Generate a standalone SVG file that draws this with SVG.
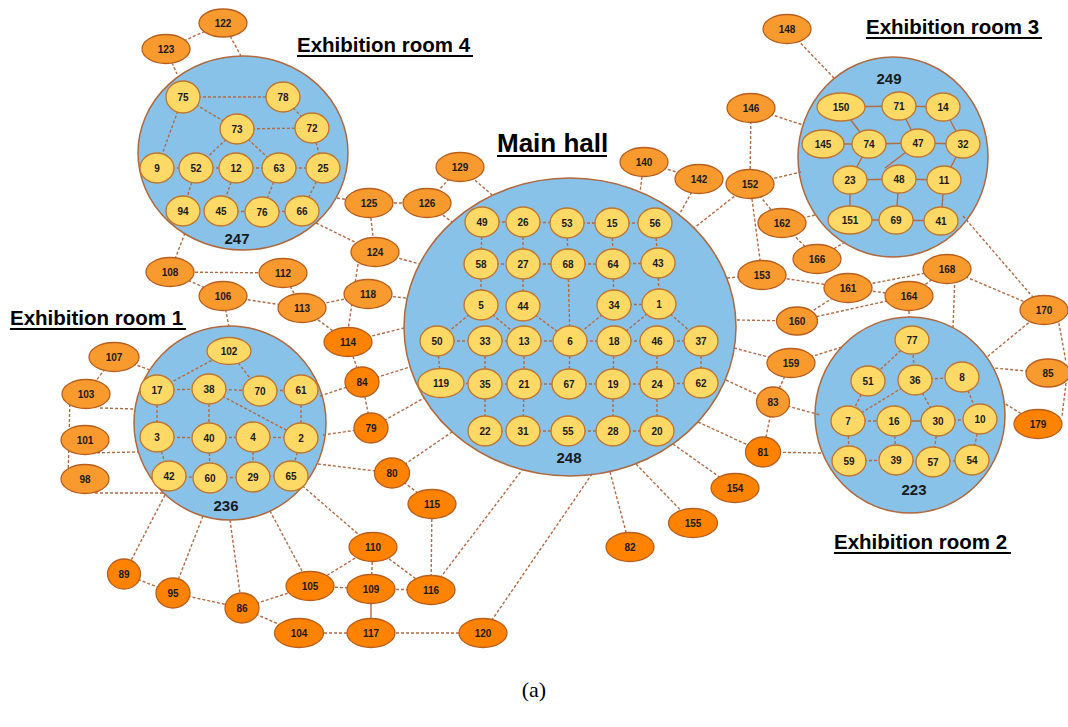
<svg xmlns="http://www.w3.org/2000/svg" width="1068" height="727" viewBox="0 0 1068 727">
<style>
.room{fill:#89C2E9;stroke:#B0683C;stroke-width:1.5}
.y ellipse{fill:#FFD966;stroke:#BF7530;stroke-width:1.3}
.o ellipse{fill:#F99A2E;stroke:#B85E1E;stroke-width:1.3}
.d ellipse{fill:#FF8200;stroke:#B85E1E;stroke-width:1.3}
text{font-family:"Liberation Sans",Arial,sans-serif;font-weight:bold;text-anchor:middle;fill:#1a1a1a}
.n text{font-size:10px}
.rn{font-size:15px}
.title{font-size:20.5px;text-anchor:start;fill:#000}
.ul{stroke:#000;stroke-width:2.2}
#connectors line{stroke:#B46A43;stroke-width:1.4;stroke-dasharray:3 2}
#connectors line.s{stroke-dasharray:none}
</style>

<!-- titles -->
<g id="labels">
<text class="title" x="297" y="52">Exhibition room 4</text><line class="ul" x1="297" y1="56" x2="473" y2="56"/>
<text class="title" x="866" y="34">Exhibition room 3</text><line class="ul" x1="866" y1="38" x2="1042" y2="38"/>
<text class="title" x="10" y="325">Exhibition room 1</text><line class="ul" x1="10" y1="329" x2="186" y2="329"/>
<text class="title" x="834" y="549">Exhibition room 2</text><line class="ul" x1="834" y1="553" x2="1011" y2="553"/>
<text style="font-size:26px;text-anchor:start;fill:#000" x="497" y="152">Main hall</text><line class="ul" x1="497" y1="156" x2="607" y2="156"/>
<text style="font-family:'Liberation Serif',serif;font-weight:normal;font-size:22px;fill:#000" x="534" y="697">(a)</text>
</g>

<!-- rooms -->
<g id="room4"><ellipse class="room" cx="243" cy="153" rx="105" ry="97"/><text class="rn" x="237" y="244">247</text></g>
<g id="mainhall"><ellipse class="room" cx="570" cy="327" rx="166" ry="149"/><text class="rn" x="569" y="463">248</text></g>
<g id="room3"><ellipse class="room" cx="893" cy="157" rx="95" ry="100"/><text class="rn" x="889" y="84">249</text></g>
<g id="room1"><ellipse class="room" cx="230" cy="423" rx="96" ry="97"/><text class="rn" x="226" y="511">236</text></g>
<g id="room2"><ellipse class="room" cx="910" cy="415" rx="95" ry="98"/><text class="rn" x="914" y="495">223</text></g>

<g id="connectors">
<!-- room 4 internal -->
<line x1="183" y1="97" x2="283" y2="97"/><line x1="183" y1="97" x2="237" y2="129"/><line x1="183" y1="97" x2="157" y2="168"/>
<line x1="237" y1="129" x2="312" y2="128"/><line x1="283" y1="97" x2="312" y2="128"/><line x1="237" y1="129" x2="196" y2="168"/>
<line x1="237" y1="129" x2="279" y2="168"/><line x1="157" y1="168" x2="196" y2="168"/><line x1="196" y1="168" x2="236" y2="168"/>
<line x1="236" y1="168" x2="279" y2="168"/><line x1="279" y1="168" x2="323" y2="168"/><line x1="312" y1="128" x2="323" y2="168"/>
<line x1="196" y1="168" x2="183" y2="211"/><line x1="236" y1="168" x2="221" y2="211"/><line x1="221" y1="211" x2="262" y2="212"/>
<line x1="279" y1="168" x2="262" y2="212"/><line x1="323" y1="168" x2="302" y2="211"/><line x1="262" y1="212" x2="302" y2="211"/>
<!-- room 4 external -->
<line x1="223" y1="23" x2="166" y2="49"/><line x1="223" y1="23" x2="241" y2="56"/><line x1="166" y1="49" x2="177" y2="74"/>
<line x1="337" y1="198" x2="369" y2="203"/><line x1="369" y1="203" x2="427" y2="203"/><line x1="427" y1="203" x2="460" y2="167"/>
<line x1="460" y1="167" x2="492" y2="195"/><line x1="427" y1="203" x2="452" y2="222"/><line x1="369" y1="203" x2="375" y2="252"/>
<line x1="316" y1="223" x2="375" y2="252"/><line x1="375" y1="252" x2="420" y2="264"/><line x1="358" y1="264" x2="348" y2="330"/>
<line x1="302" y1="308" x2="368" y2="294"/><line x1="302" y1="308" x2="348" y2="342"/><line x1="283" y1="273" x2="302" y2="308"/>
<line x1="170" y1="272" x2="283" y2="273"/><line x1="170" y1="272" x2="223" y2="296"/><line x1="223" y1="296" x2="302" y2="308"/>
<line x1="185" y1="233" x2="170" y2="272"/><line x1="229" y1="327" x2="223" y2="296"/>
<!-- main hall west -->
<line x1="368" y1="294" x2="406" y2="298"/><line x1="348" y1="342" x2="404" y2="328"/><line x1="348" y1="342" x2="362" y2="382"/>
<line x1="320" y1="396" x2="362" y2="382"/><line x1="362" y1="382" x2="410" y2="367"/><line x1="362" y1="382" x2="371" y2="428"/>
<line x1="371" y1="428" x2="424" y2="398"/><line x1="323" y1="435" x2="371" y2="428"/><line x1="318" y1="464" x2="392" y2="473"/>
<line x1="392" y1="473" x2="452" y2="432"/><line x1="392" y1="473" x2="432" y2="504"/><line x1="432" y1="504" x2="431" y2="590"/>
<line x1="431" y1="590" x2="522" y2="470"/><line x1="483" y1="633" x2="592" y2="474"/>
<!-- main hall south/east -->
<line x1="610" y1="472" x2="630" y2="547"/><line x1="636" y1="464" x2="693" y2="523"/><line x1="673" y1="444" x2="735" y2="488"/>
<line x1="698" y1="422" x2="763" y2="452"/><line x1="763" y1="452" x2="821" y2="453"/><line x1="763" y1="452" x2="773" y2="402"/>
<line x1="726" y1="380" x2="773" y2="402"/><line x1="773" y1="402" x2="820" y2="415"/><line x1="773" y1="402" x2="791" y2="363"/>
<line x1="734" y1="348" x2="791" y2="363"/><line x1="791" y1="363" x2="842" y2="347"/><line x1="737" y1="320" x2="797" y2="321"/>
<line x1="797" y1="321" x2="848" y2="288"/><line x1="797" y1="321" x2="909" y2="296"/><line x1="727" y1="278" x2="762" y2="275"/>
<line x1="762" y1="275" x2="848" y2="288"/><line x1="848" y1="288" x2="947" y2="269"/><line x1="848" y1="288" x2="909" y2="296"/>
<line x1="909" y1="296" x2="947" y2="269"/><line x1="909" y1="296" x2="909" y2="317"/><line x1="955" y1="275" x2="953" y2="327"/>
<line x1="947" y1="269" x2="1044" y2="310"/><line x1="963" y1="216" x2="1044" y2="310"/><line x1="1044" y1="310" x2="987" y2="357"/>
<line x1="1058" y1="318" x2="1066" y2="362"/><line x1="1066" y1="383" x2="1062" y2="416"/><line x1="1048" y1="373" x2="994" y2="368"/>
<line x1="1038" y1="424" x2="1004" y2="403"/>
<!-- room 3 external -->
<line x1="845" y1="242" x2="817" y2="259"/><line x1="815" y1="215" x2="782" y2="223"/><line x1="782" y1="223" x2="817" y2="259"/>
<line x1="750" y1="184" x2="782" y2="223"/><line x1="750" y1="184" x2="801" y2="172"/><line x1="750" y1="184" x2="751" y2="108"/>
<line x1="751" y1="108" x2="803" y2="125"/><line x1="787" y1="29" x2="834" y2="78"/><line x1="644" y1="162" x2="699" y2="179"/>
<line x1="644" y1="162" x2="640" y2="192"/><line x1="699" y1="179" x2="679" y2="215"/><line x1="750" y1="184" x2="694" y2="228"/>
<line x1="750" y1="184" x2="762" y2="275"/>
<!-- room 1 external -->
<line x1="114" y1="357" x2="86" y2="394"/><line x1="114" y1="357" x2="150" y2="370"/><line x1="100" y1="408" x2="135" y2="409"/>
<line x1="70" y1="394" x2="69" y2="440"/><line x1="69" y1="440" x2="68" y2="479"/><line x1="87" y1="453" x2="138" y2="452"/>
<line x1="95" y1="493" x2="163" y2="493"/><line x1="165" y1="495" x2="124" y2="574"/><line x1="203" y1="516" x2="173" y2="593"/>
<line x1="230" y1="520" x2="242" y2="608"/><line x1="270" y1="511" x2="310" y2="586"/><line x1="291" y1="476" x2="373" y2="547"/>
<line x1="124" y1="574" x2="173" y2="593"/><line x1="173" y1="593" x2="242" y2="608"/><line x1="242" y1="608" x2="310" y2="586"/>
<line x1="242" y1="608" x2="299" y2="633"/><line x1="310" y1="586" x2="373" y2="547"/><line x1="310" y1="586" x2="371" y2="589"/>
<line x1="373" y1="547" x2="371" y2="589"/><line x1="373" y1="547" x2="431" y2="590"/><line x1="371" y1="589" x2="431" y2="590"/>
<line class="s" x1="371" y1="589" x2="371" y2="633"/><line x1="299" y1="633" x2="371" y2="633"/><line x1="371" y1="633" x2="483" y2="633"/>
<!-- room 1 internal -->
<line x1="229" y1="351" x2="157" y2="390"/><line x1="229" y1="351" x2="260" y2="391"/><line x1="157" y1="390" x2="209" y2="389"/>
<line x1="209" y1="389" x2="260" y2="391"/><line x1="260" y1="391" x2="301" y2="390"/><line x1="209" y1="389" x2="301" y2="438"/>
<line x1="157" y1="390" x2="157" y2="437"/><line x1="209" y1="389" x2="209" y2="438"/><line x1="301" y1="390" x2="301" y2="438"/>
<line x1="157" y1="437" x2="209" y2="438"/><line x1="209" y1="438" x2="253" y2="437"/><line x1="253" y1="437" x2="301" y2="438"/>
<line x1="157" y1="437" x2="169" y2="476"/><line x1="209" y1="438" x2="210" y2="478"/><line x1="253" y1="437" x2="253" y2="477"/>
<line x1="169" y1="476" x2="210" y2="478"/><line x1="210" y1="478" x2="253" y2="477"/><line x1="253" y1="477" x2="291" y2="476"/>
<line x1="301" y1="438" x2="291" y2="476"/>
<!-- main hall internal -->
<line x1="482" y1="222" x2="523" y2="222"/><line x1="523" y1="222" x2="567" y2="223"/><line x1="567" y1="223" x2="612" y2="223"/><line x1="612" y1="223" x2="655" y2="223"/>
<line x1="482" y1="222" x2="481" y2="264"/><line x1="523" y1="222" x2="523" y2="264"/><line x1="567" y1="223" x2="568" y2="264"/><line x1="612" y1="223" x2="613" y2="264"/><line x1="655" y1="223" x2="658" y2="263"/>
<line x1="481" y1="264" x2="523" y2="264"/><line x1="523" y1="264" x2="568" y2="264"/><line x1="568" y1="264" x2="613" y2="264"/><line x1="613" y1="264" x2="658" y2="263"/>
<line x1="481" y1="264" x2="481" y2="305"/><line x1="523" y1="264" x2="523" y2="306"/><line x1="613" y1="264" x2="614" y2="305"/><line x1="658" y1="263" x2="659" y2="304"/>
<line x1="614" y1="305" x2="659" y2="304"/><line x1="481" y1="305" x2="437" y2="341"/><line x1="481" y1="305" x2="524" y2="341"/>
<line x1="523" y1="306" x2="570" y2="341"/><line x1="568" y1="264" x2="570" y2="341"/><line x1="614" y1="305" x2="570" y2="341"/>
<line x1="659" y1="304" x2="614" y2="341"/><line x1="659" y1="304" x2="701" y2="341"/>
<line x1="437" y1="341" x2="485" y2="341"/><line x1="485" y1="341" x2="524" y2="341"/><line x1="524" y1="341" x2="570" y2="341"/><line x1="570" y1="341" x2="614" y2="341"/><line x1="614" y1="341" x2="657" y2="341"/><line x1="657" y1="341" x2="701" y2="341"/>
<line x1="437" y1="341" x2="441" y2="383"/><line x1="485" y1="341" x2="485" y2="384"/><line x1="524" y1="341" x2="524" y2="384"/><line x1="570" y1="341" x2="569" y2="384"/><line x1="614" y1="341" x2="613" y2="384"/><line x1="657" y1="341" x2="657" y2="384"/><line x1="701" y1="341" x2="701" y2="383"/>
<line x1="441" y1="383" x2="485" y2="384"/><line x1="485" y1="384" x2="524" y2="384"/><line x1="524" y1="384" x2="569" y2="384"/><line x1="569" y1="384" x2="613" y2="384"/><line x1="613" y1="384" x2="657" y2="384"/><line x1="657" y1="384" x2="701" y2="383"/>
<line x1="485" y1="384" x2="485" y2="431"/><line x1="524" y1="384" x2="523" y2="431"/><line x1="613" y1="384" x2="613" y2="431"/><line x1="657" y1="384" x2="657" y2="431"/>
<line x1="485" y1="431" x2="523" y2="431"/><line x1="523" y1="431" x2="568" y2="431"/><line x1="568" y1="431" x2="613" y2="431"/><line x1="613" y1="431" x2="657" y2="431"/>
<!-- room 3 internal -->
<line class="s" x1="841" y1="107" x2="899" y2="106"/><line class="s" x1="899" y1="106" x2="943" y2="107"/><line class="s" x1="841" y1="107" x2="869" y2="144"/>
<line class="s" x1="899" y1="106" x2="918" y2="143"/><line class="s" x1="943" y1="107" x2="963" y2="144"/><line class="s" x1="823" y1="144" x2="869" y2="144"/>
<line class="s" x1="869" y1="144" x2="918" y2="143"/><line class="s" x1="918" y1="143" x2="963" y2="144"/><line class="s" x1="869" y1="144" x2="850" y2="180"/>
<line class="s" x1="918" y1="143" x2="885" y2="168"/><line class="s" x1="963" y1="144" x2="944" y2="180"/><line class="s" x1="850" y1="180" x2="899" y2="179"/>
<line class="s" x1="899" y1="179" x2="944" y2="180"/><line class="s" x1="850" y1="180" x2="850" y2="220"/><line class="s" x1="899" y1="179" x2="896" y2="220"/>
<line class="s" x1="944" y1="180" x2="941" y2="221"/><line class="s" x1="850" y1="220" x2="896" y2="220"/><line class="s" x1="896" y1="220" x2="941" y2="221"/>
<!-- room 2 internal -->
<line x1="912" y1="340" x2="868" y2="381"/><line x1="912" y1="340" x2="915" y2="380"/><line x1="915" y1="380" x2="962" y2="377"/>
<line x1="915" y1="380" x2="848" y2="421"/><line x1="915" y1="380" x2="938" y2="421"/><line x1="962" y1="377" x2="980" y2="419"/>
<line x1="868" y1="381" x2="848" y2="421"/><line x1="848" y1="421" x2="894" y2="421"/><line class="s" x1="894" y1="421" x2="938" y2="421"/>
<line x1="938" y1="421" x2="980" y2="419"/><line x1="848" y1="421" x2="849" y2="461"/><line x1="894" y1="421" x2="896" y2="460"/>
<line x1="938" y1="421" x2="933" y2="462"/><line x1="980" y1="419" x2="972" y2="460"/><line x1="849" y1="461" x2="896" y2="460"/>
<line x1="896" y1="460" x2="933" y2="462"/><line x1="933" y1="462" x2="972" y2="460"/>
</g>

<!-- inner (yellow) nodes -->
<g class="n y">
<g id="n75"><ellipse cx="183" cy="97" rx="17" ry="16"/><text x="183" y="100.5">75</text></g>
<g id="n78"><ellipse cx="283" cy="97" rx="17" ry="15"/><text x="283" y="100.5">78</text></g>
<g id="n73"><ellipse cx="237" cy="129" rx="17" ry="15"/><text x="237" y="132.5">73</text></g>
<g id="n72"><ellipse cx="312" cy="128" rx="17" ry="15"/><text x="312" y="131.5">72</text></g>
<g id="n9"><ellipse cx="157" cy="168" rx="17" ry="15"/><text x="157" y="171.5">9</text></g>
<g id="n52"><ellipse cx="196" cy="168" rx="17" ry="15"/><text x="196" y="171.5">52</text></g>
<g id="n12"><ellipse cx="236" cy="168" rx="17" ry="15"/><text x="236" y="171.5">12</text></g>
<g id="n63"><ellipse cx="279" cy="168" rx="17" ry="15"/><text x="279" y="171.5">63</text></g>
<g id="n25"><ellipse cx="323" cy="168" rx="17" ry="15"/><text x="323" y="171.5">25</text></g>
<g id="n94"><ellipse cx="183" cy="211" rx="17" ry="15"/><text x="183" y="214.5">94</text></g>
<g id="n45"><ellipse cx="221" cy="211" rx="17" ry="15"/><text x="221" y="214.5">45</text></g>
<g id="n76"><ellipse cx="262" cy="212" rx="17" ry="15"/><text x="262" y="215.5">76</text></g>
<g id="n66"><ellipse cx="302" cy="211" rx="17" ry="15"/><text x="302" y="214.5">66</text></g>

<g id="n49"><ellipse cx="482" cy="222" rx="17" ry="15"/><text x="482" y="225.5">49</text></g>
<g id="n26"><ellipse cx="523" cy="222" rx="17" ry="15"/><text x="523" y="225.5">26</text></g>
<g id="n53"><ellipse cx="567" cy="223" rx="17" ry="15"/><text x="567" y="226.5">53</text></g>
<g id="n15"><ellipse cx="612" cy="223" rx="17" ry="15"/><text x="612" y="226.5">15</text></g>
<g id="n56"><ellipse cx="655" cy="223" rx="17" ry="15"/><text x="655" y="226.5">56</text></g>
<g id="n58"><ellipse cx="481" cy="264" rx="17" ry="15"/><text x="481" y="267.5">58</text></g>
<g id="n27"><ellipse cx="523" cy="264" rx="17" ry="15"/><text x="523" y="267.5">27</text></g>
<g id="n68"><ellipse cx="568" cy="264" rx="17" ry="15"/><text x="568" y="267.5">68</text></g>
<g id="n64"><ellipse cx="613" cy="264" rx="17" ry="15"/><text x="613" y="267.5">64</text></g>
<g id="n43"><ellipse cx="658" cy="263" rx="17" ry="15"/><text x="658" y="266.5">43</text></g>
<g id="n5"><ellipse cx="481" cy="305" rx="17" ry="15"/><text x="481" y="308.5">5</text></g>
<g id="n44"><ellipse cx="523" cy="306" rx="17" ry="15"/><text x="523" y="309.5">44</text></g>
<g id="n34"><ellipse cx="614" cy="305" rx="17" ry="15"/><text x="614" y="308.5">34</text></g>
<g id="n1"><ellipse cx="659" cy="304" rx="17" ry="15"/><text x="659" y="307.5">1</text></g>
<g id="n50"><ellipse cx="437" cy="341" rx="17" ry="15"/><text x="437" y="344.5">50</text></g>
<g id="n33"><ellipse cx="485" cy="341" rx="17" ry="15"/><text x="485" y="344.5">33</text></g>
<g id="n13"><ellipse cx="524" cy="341" rx="17" ry="15"/><text x="524" y="344.5">13</text></g>
<g id="n6"><ellipse cx="570" cy="341" rx="17" ry="15"/><text x="570" y="344.5">6</text></g>
<g id="n18"><ellipse cx="614" cy="341" rx="17" ry="15"/><text x="614" y="344.5">18</text></g>
<g id="n46"><ellipse cx="657" cy="341" rx="17" ry="15"/><text x="657" y="344.5">46</text></g>
<g id="n37"><ellipse cx="701" cy="341" rx="17" ry="15"/><text x="701" y="344.5">37</text></g>
<g id="n119"><ellipse cx="441" cy="383" rx="23" ry="14.5"/><text x="441" y="386.5">119</text></g>
<g id="n35"><ellipse cx="485" cy="384" rx="17" ry="15"/><text x="485" y="387.5">35</text></g>
<g id="n21"><ellipse cx="524" cy="384" rx="17" ry="15"/><text x="524" y="387.5">21</text></g>
<g id="n67"><ellipse cx="569" cy="384" rx="17" ry="15"/><text x="569" y="387.5">67</text></g>
<g id="n19"><ellipse cx="613" cy="384" rx="17" ry="15"/><text x="613" y="387.5">19</text></g>
<g id="n24"><ellipse cx="657" cy="384" rx="17" ry="15"/><text x="657" y="387.5">24</text></g>
<g id="n62"><ellipse cx="701" cy="383" rx="17" ry="15"/><text x="701" y="386.5">62</text></g>
<g id="n22"><ellipse cx="485" cy="431" rx="17" ry="15"/><text x="485" y="434.5">22</text></g>
<g id="n31"><ellipse cx="523" cy="431" rx="17" ry="15"/><text x="523" y="434.5">31</text></g>
<g id="n55"><ellipse cx="568" cy="431" rx="17" ry="15"/><text x="568" y="434.5">55</text></g>
<g id="n28"><ellipse cx="613" cy="431" rx="17" ry="15"/><text x="613" y="434.5">28</text></g>
<g id="n20"><ellipse cx="657" cy="431" rx="17" ry="15"/><text x="657" y="434.5">20</text></g>

<g id="n150"><ellipse cx="841" cy="107" rx="24" ry="14"/><text x="841" y="110.5">150</text></g>
<g id="n71"><ellipse cx="899" cy="106" rx="17" ry="14"/><text x="899" y="109.5">71</text></g>
<g id="n14"><ellipse cx="943" cy="107" rx="17" ry="14"/><text x="943" y="110.5">14</text></g>
<g id="n145"><ellipse cx="823" cy="144" rx="21" ry="14"/><text x="823" y="147.5">145</text></g>
<g id="n74"><ellipse cx="869" cy="144" rx="17" ry="14"/><text x="869" y="147.5">74</text></g>
<g id="n47"><ellipse cx="918" cy="143" rx="17" ry="14"/><text x="918" y="146.5">47</text></g>
<g id="n32"><ellipse cx="963" cy="144" rx="17" ry="14"/><text x="963" y="147.5">32</text></g>
<g id="n23"><ellipse cx="850" cy="180" rx="17" ry="14"/><text x="850" y="183.5">23</text></g>
<g id="n48"><ellipse cx="899" cy="179" rx="17" ry="14"/><text x="899" y="182.5">48</text></g>
<g id="n11"><ellipse cx="944" cy="180" rx="17" ry="14"/><text x="944" y="183.5">11</text></g>
<g id="n151"><ellipse cx="850" cy="220" rx="22" ry="14"/><text x="850" y="223.5">151</text></g>
<g id="n69"><ellipse cx="896" cy="220" rx="17" ry="14"/><text x="896" y="223.5">69</text></g>
<g id="n41"><ellipse cx="941" cy="221" rx="17" ry="14"/><text x="941" y="224.5">41</text></g>

<g id="n102"><ellipse cx="229" cy="351" rx="22" ry="13.5"/><text x="229" y="354.5">102</text></g>
<g id="n17"><ellipse cx="157" cy="390" rx="17" ry="15"/><text x="157" y="393.5">17</text></g>
<g id="n38"><ellipse cx="209" cy="389" rx="17" ry="15"/><text x="209" y="392.5">38</text></g>
<g id="n70"><ellipse cx="260" cy="391" rx="17" ry="15"/><text x="260" y="394.5">70</text></g>
<g id="n61"><ellipse cx="301" cy="390" rx="17" ry="15"/><text x="301" y="393.5">61</text></g>
<g id="n3"><ellipse cx="157" cy="437" rx="17" ry="15"/><text x="157" y="440.5">3</text></g>
<g id="n40"><ellipse cx="209" cy="438" rx="17" ry="15"/><text x="209" y="441.5">40</text></g>
<g id="n4"><ellipse cx="253" cy="437" rx="17" ry="15"/><text x="253" y="440.5">4</text></g>
<g id="n2"><ellipse cx="301" cy="438" rx="17" ry="15"/><text x="301" y="441.5">2</text></g>
<g id="n42"><ellipse cx="169" cy="476" rx="17" ry="15"/><text x="169" y="479.5">42</text></g>
<g id="n60"><ellipse cx="210" cy="478" rx="17" ry="15"/><text x="210" y="481.5">60</text></g>
<g id="n29"><ellipse cx="253" cy="477" rx="17" ry="15"/><text x="253" y="480.5">29</text></g>
<g id="n65"><ellipse cx="291" cy="476" rx="17" ry="15"/><text x="291" y="479.5">65</text></g>

<g id="n77"><ellipse cx="912" cy="340" rx="17" ry="14"/><text x="912" y="343.5">77</text></g>
<g id="n51"><ellipse cx="868" cy="381" rx="17" ry="15"/><text x="868" y="384.5">51</text></g>
<g id="n36"><ellipse cx="915" cy="380" rx="17" ry="15"/><text x="915" y="383.5">36</text></g>
<g id="n8"><ellipse cx="962" cy="377" rx="17" ry="15"/><text x="962" y="380.5">8</text></g>
<g id="n7"><ellipse cx="848" cy="421" rx="17" ry="15"/><text x="848" y="424.5">7</text></g>
<g id="n16"><ellipse cx="894" cy="421" rx="17" ry="15"/><text x="894" y="424.5">16</text></g>
<g id="n30"><ellipse cx="938" cy="421" rx="17" ry="15"/><text x="938" y="424.5">30</text></g>
<g id="n10"><ellipse cx="980" cy="419" rx="17" ry="15"/><text x="980" y="422.5">10</text></g>
<g id="n59"><ellipse cx="849" cy="461" rx="17" ry="15"/><text x="849" y="464.5">59</text></g>
<g id="n39"><ellipse cx="896" cy="460" rx="17" ry="15"/><text x="896" y="463.5">39</text></g>
<g id="n57"><ellipse cx="933" cy="462" rx="17" ry="15"/><text x="933" y="465.5">57</text></g>
<g id="n54"><ellipse cx="972" cy="460" rx="17" ry="15"/><text x="972" y="463.5">54</text></g>
</g>

<!-- outer light orange nodes -->
<g class="n o">
<g id="n122"><ellipse cx="223" cy="23" rx="24" ry="14"/><text x="223" y="26.5">122</text></g>
<g id="n123"><ellipse cx="166" cy="49" rx="24" ry="14.5"/><text x="166" y="52.5">123</text></g>
<g id="n125"><ellipse cx="369" cy="203" rx="24" ry="14.5"/><text x="369" y="206.5">125</text></g>
<g id="n126"><ellipse cx="427" cy="203" rx="24" ry="14.5"/><text x="427" y="206.5">126</text></g>
<g id="n129"><ellipse cx="460" cy="167" rx="24" ry="14.5"/><text x="460" y="170.5">129</text></g>
<g id="n124"><ellipse cx="375" cy="252" rx="24" ry="14.5"/><text x="375" y="255.5">124</text></g>
<g id="n108"><ellipse cx="170" cy="272" rx="24" ry="14.5"/><text x="170" y="275.5">108</text></g>
<g id="n112"><ellipse cx="283" cy="273" rx="24" ry="14.5"/><text x="283" y="276.5">112</text></g>
<g id="n106"><ellipse cx="223" cy="296" rx="24" ry="14.5"/><text x="223" y="299.5">106</text></g>
<g id="n113"><ellipse cx="302" cy="308" rx="24" ry="14.5"/><text x="302" y="311.5">113</text></g>
<g id="n118"><ellipse cx="368" cy="294" rx="24" ry="14.5"/><text x="368" y="297.5">118</text></g>
<g id="n107"><ellipse cx="114" cy="357" rx="25" ry="14.5"/><text x="114" y="360.5">107</text></g>
<g id="n103"><ellipse cx="86" cy="394" rx="24" ry="14.5"/><text x="86" y="397.5">103</text></g>
<g id="n101"><ellipse cx="85" cy="440" rx="24" ry="14.5"/><text x="85" y="443.5">101</text></g>
<g id="n98"><ellipse cx="85" cy="479" rx="24" ry="14.5"/><text x="85" y="482.5">98</text></g>
<g id="n140"><ellipse cx="644" cy="162" rx="24" ry="14.5"/><text x="644" y="165.5">140</text></g>
<g id="n142"><ellipse cx="699" cy="179" rx="24" ry="14.5"/><text x="699" y="182.5">142</text></g>
<g id="n146"><ellipse cx="751" cy="108" rx="24" ry="14.5"/><text x="751" y="111.5">146</text></g>
<g id="n148"><ellipse cx="787" cy="29" rx="24" ry="14.5"/><text x="787" y="32.5">148</text></g>
<g id="n152"><ellipse cx="750" cy="184" rx="24" ry="14.5"/><text x="750" y="187.5">152</text></g>
<g id="n162"><ellipse cx="782" cy="223" rx="24" ry="14.5"/><text x="782" y="226.5">162</text></g>
<g id="n153"><ellipse cx="762" cy="275" rx="24" ry="14.5"/><text x="762" y="278.5">153</text></g>
<g id="n166"><ellipse cx="817" cy="259" rx="24" ry="14.5"/><text x="817" y="262.5">166</text></g>
<g id="n161"><ellipse cx="848" cy="288" rx="24" ry="14.5"/><text x="848" y="291.5">161</text></g>
<g id="n164"><ellipse cx="909" cy="296" rx="24" ry="14.5"/><text x="909" y="299.5">164</text></g>
<g id="n168"><ellipse cx="947" cy="269" rx="24" ry="14.5"/><text x="947" y="272.5">168</text></g>
<g id="n170"><ellipse cx="1044" cy="310" rx="24" ry="14.5"/><text x="1044" y="313.5">170</text></g>
<g id="n85"><ellipse cx="1048" cy="373" rx="22" ry="14"/><text x="1048" y="376.5">85</text></g>
<g id="n160"><ellipse cx="797" cy="321" rx="20.5" ry="14"/><text x="797" y="324.5">160</text></g>
<g id="n159"><ellipse cx="791" cy="363" rx="24" ry="14.5"/><text x="791" y="366.5">159</text></g>
<g id="n83"><ellipse cx="773" cy="402" rx="16.5" ry="15"/><text x="773" y="405.5">83</text></g>
</g>

<!-- outer dark orange nodes -->
<g class="n d">
<g id="n114"><ellipse cx="348" cy="342" rx="24" ry="14.5"/><text x="348" y="345.5">114</text></g>
<g id="n84"><ellipse cx="362" cy="382" rx="17" ry="15"/><text x="362" y="385.5">84</text></g>
<g id="n79"><ellipse cx="371" cy="428" rx="17" ry="15"/><text x="371" y="431.5">79</text></g>
<g id="n80"><ellipse cx="392" cy="473" rx="17.5" ry="15"/><text x="392" y="476.5">80</text></g>
<g id="n89"><ellipse cx="124" cy="574" rx="16.5" ry="15"/><text x="124" y="577.5">89</text></g>
<g id="n95"><ellipse cx="173" cy="593" rx="17" ry="15"/><text x="173" y="596.5">95</text></g>
<g id="n86"><ellipse cx="242" cy="608" rx="17" ry="15"/><text x="242" y="611.5">86</text></g>
<g id="n115"><ellipse cx="432" cy="504" rx="24" ry="14.5"/><text x="432" y="507.5">115</text></g>
<g id="n110"><ellipse cx="373" cy="547" rx="24" ry="14.5"/><text x="373" y="550.5">110</text></g>
<g id="n105"><ellipse cx="310" cy="586" rx="24" ry="14.5"/><text x="310" y="589.5">105</text></g>
<g id="n109"><ellipse cx="371" cy="589" rx="24" ry="14.5"/><text x="371" y="592.5">109</text></g>
<g id="n116"><ellipse cx="431" cy="590" rx="24" ry="14.5"/><text x="431" y="593.5">116</text></g>
<g id="n104"><ellipse cx="299" cy="633" rx="24.5" ry="14.5"/><text x="299" y="636.5">104</text></g>
<g id="n117"><ellipse cx="371" cy="633" rx="24" ry="14.5"/><text x="371" y="636.5">117</text></g>
<g id="n120"><ellipse cx="483" cy="633" rx="24" ry="14.5"/><text x="483" y="636.5">120</text></g>
<g id="n82"><ellipse cx="630" cy="547" rx="24" ry="14.5"/><text x="630" y="550.5">82</text></g>
<g id="n155"><ellipse cx="693" cy="523" rx="24.5" ry="14.5"/><text x="693" y="526.5">155</text></g>
<g id="n154"><ellipse cx="735" cy="488" rx="24" ry="14.5"/><text x="735" y="491.5">154</text></g>
<g id="n81"><ellipse cx="763" cy="452" rx="17.5" ry="15"/><text x="763" y="455.5">81</text></g>
<g id="n179"><ellipse cx="1038" cy="424" rx="24" ry="14.5"/><text x="1038" y="427.5">179</text></g>
</g>
</svg>
